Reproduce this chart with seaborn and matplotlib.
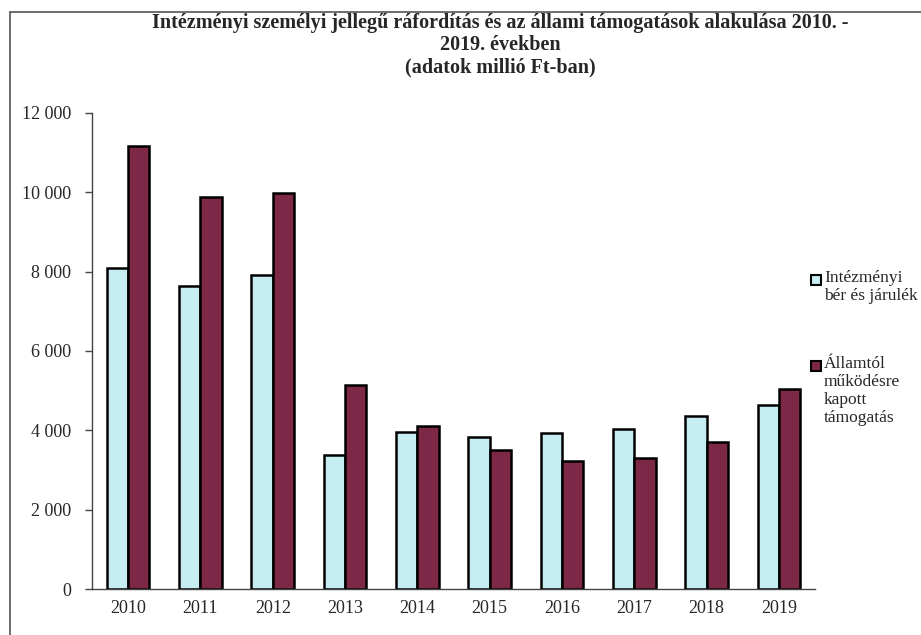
import pandas as pd
import numpy as np
import seaborn as sns
import matplotlib.pyplot as plt
from matplotlib.patches import Rectangle
from matplotlib.lines import Line2D
from matplotlib.ticker import FuncFormatter, FixedLocator

# Data (millió Ft)
years = ['2010', '2011', '2012', '2013', '2014', '2015', '2016', '2017', '2018', '2019']
ber_jarulek = [8100, 7640, 7920, 3380, 3960, 3820, 3930, 4030, 4350, 4630]
allami_tamogatas = [11170, 9890, 9980, 5150, 4100, 3500, 3230, 3290, 3710, 5040]
series_names = ['Intézményi\nbér és járulék', 'Államtól\nműködésre\nkapott\ntámogatás']
colors = ['#c6edf1', '#7d2846']

title = ('Intézményi személyi jellegű ráfordítás és az állami támogatások alakulása 2010. -\n'
         '2019. években\n(adatok millió Ft-ban)')

sns.set_style("white")
plt.rcParams['font.family'] = ['Liberation Serif', 'DejaVu Serif']

df = pd.DataFrame({
    'year': years * 2,
    'value': ber_jarulek + allami_tamogatas,
    'series': [series_names[0]] * len(years) + [series_names[1]] * len(years),
})

fig = plt.figure(figsize=(9.21, 6.35), dpi=100)
ax = fig.add_axes([0.0999, 0.0724, 0.785, 0.750])

sns.barplot(data=df, x='year', y='value', hue='series', palette=colors,
            width=0.59, edgecolor='black', linewidth=1.8, saturation=1,
            legend=False, ax=ax)

ax.set_xlim(-0.5, len(years) - 0.5)
ax.set_ylim(0, 12000)
ax.set_yticks(np.arange(0, 12001, 2000))
ax.yaxis.set_major_formatter(FuncFormatter(lambda v, p: f'{int(v):,}'.replace(',', ' ')))
ax.set_xlabel('')
ax.set_ylabel('')

# x ticks sit between the categories
ax.xaxis.set_minor_locator(FixedLocator(np.arange(-0.5, len(years), 1.0)))
ax.tick_params(axis='x', which='major', length=0, labelsize=13, pad=8)
ax.tick_params(axis='x', which='minor', length=6, width=1, color='#444444', direction='out')
ax.tick_params(axis='y', length=5, width=1, color='#444444', direction='out', labelsize=13, pad=10)
ax.tick_params(bottom=True, left=True)

for side in ['top', 'right']:
    ax.spines[side].set_visible(False)
for side in ['left', 'bottom']:
    ax.spines[side].set_color('#444444')
    ax.spines[side].set_linewidth(1)

fig.text(0.543, 0.979, title, ha='center', va='top', fontsize=14.5,
         fontweight='bold', linespacing=1.13)

# legend drawn at the right of the plot
W, H = 921, 635
for i, (name, c, ytop) in enumerate(zip(series_names, colors, [280, 366])):
    fig.patches.append(Rectangle((811 / W, 1 - (ytop + 5) / H), 10 / W, 10 / H,
                                 facecolor=c, edgecolor='black', linewidth=1.5,
                                 transform=fig.transFigure, figure=fig))
    fig.text(824 / W, 1 - (ytop - 10) / H, name, ha='left', va='top',
             fontsize=12.5, linespacing=1.17)

# outer frame of the scanned chart
fig.lines.append(Line2D([10 / W, 1.0], [1 - 12 / H] * 2, color='#555555', lw=1.2,
                        transform=fig.transFigure, figure=fig))
fig.lines.append(Line2D([10 / W] * 2, [1 - 12 / H, 0.0], color='#555555', lw=1.2,
                        transform=fig.transFigure, figure=fig))

fig.savefig('out.png', dpi=100)
